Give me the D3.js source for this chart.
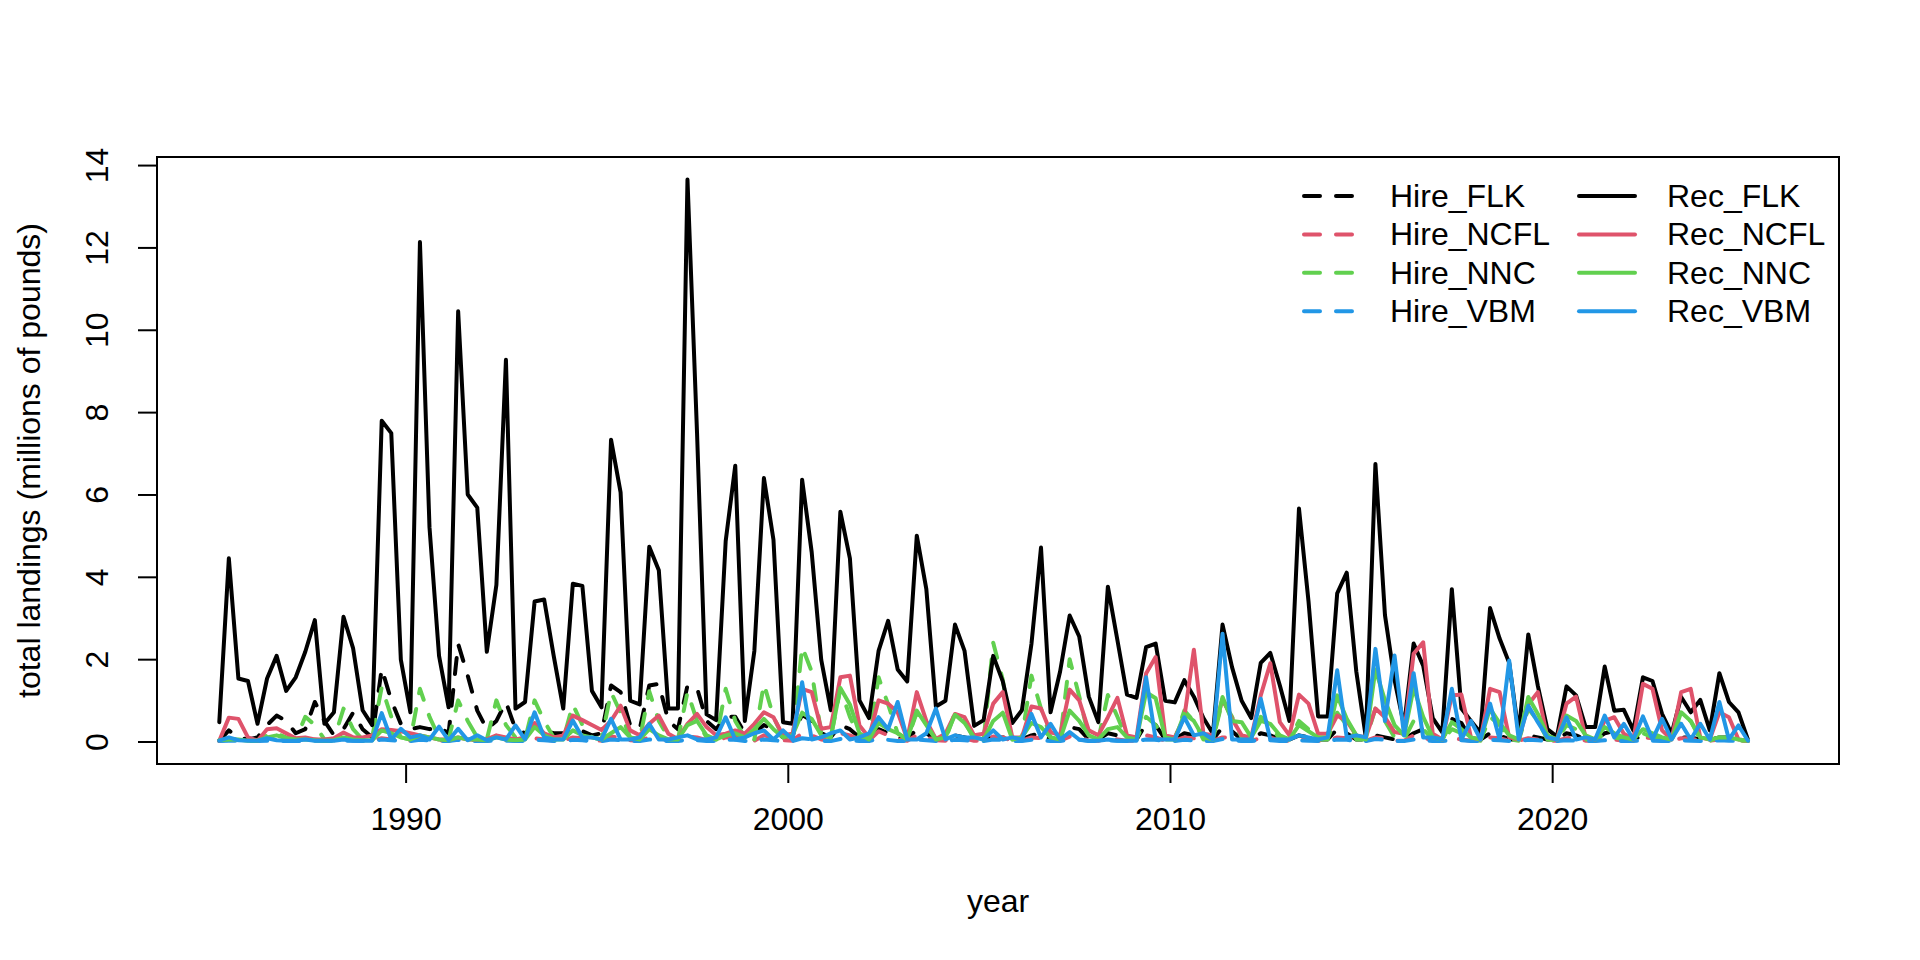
<!DOCTYPE html>
<html>
<head>
<meta charset="utf-8">
<script src="https://cdn.jsdelivr.net/npm/d3@7"></script>
<style>
  body { margin: 0; background: #fff; }
  svg text { font-family: "Liberation Sans", Arial, Helvetica, sans-serif; fill: #000; }
</style>
</head>
<body>
<svg id="chart" width="1920" height="960"></svg>
<script>

// quarterly values, 1985 Q1 .. 2025 Q1 (millions of pounds)
var firstYear = 1985;
var lastYear = 2025;

var hire_flk = [
  0.02,0.27,0.10,0.05,0.10,0.40,0.63,0.50,0.20,0.30,
  0.96,0.50,0.15,0.30,0.70,0.30,0.10,1.77,1.00,0.43,
  0.30,0.35,0.30,0.35,0.20,2.37,1.60,0.75,0.30,0.50,
  0.96,0.30,0.20,0.35,0.30,0.20,0.20,0.30,0.25,0.15,
  0.20,1.36,1.20,0.40,0.30,1.36,1.40,0.50,0.30,1.36,
  1.30,0.50,0.30,0.60,0.60,0.20,0.20,0.40,0.30,0.10,
  0.15,0.65,0.50,0.20,0.10,0.40,0.30,0.10,0.05,0.30,
  0.20,0.10,0.05,0.30,0.20,0.05,0.05,0.15,0.10,0.05,
  0.05,0.10,0.10,0.05,0.05,0.15,0.20,0.05,0.05,0.35,
  0.30,0.05,0.05,0.20,0.15,0.05,0.05,0.43,0.40,0.05,
  0.05,0.20,0.15,0.05,0.05,0.35,0.25,0.05,0.05,0.20,
  0.15,0.05,0.05,0.15,0.10,0.05,0.05,0.30,0.20,0.05,
  0.05,0.15,0.10,0.05,0.05,0.20,0.30,0.05,0.05,0.55,
  0.45,0.05,0.05,0.20,0.15,0.05,0.05,0.15,0.10,0.05,
  0.05,0.20,0.15,0.05,0.05,0.20,0.25,0.05,0.05,0.15,
  0.15,0.05,0.05,0.10,0.10,0.05,0.05,0.10,0.10,0.05,
  0.02
];

var hire_ncfl = [
  0.02,0.05,0.05,0.02,0.02,0.05,0.05,0.02,0.02,0.03,
  0.05,0.02,0.02,0.05,0.03,0.02,0.02,0.08,0.05,0.03,
  0.02,0.10,0.05,0.03,0.02,0.08,0.05,0.03,0.02,0.05,
  0.05,0.02,0.02,0.08,0.05,0.02,0.02,0.10,0.08,0.03,
  0.02,0.12,0.10,0.03,0.02,0.10,0.08,0.03,0.02,0.12,
  0.10,0.03,0.02,0.10,0.12,0.03,0.02,0.15,0.10,0.03,
  0.02,0.20,0.15,0.05,0.02,0.20,0.15,0.05,0.02,0.25,
  0.15,0.05,0.02,0.15,0.10,0.03,0.02,0.10,0.08,0.02,
  0.02,0.12,0.10,0.02,0.02,0.10,0.08,0.02,0.02,0.12,
  0.10,0.02,0.02,0.08,0.05,0.02,0.02,0.15,0.10,0.02,
  0.02,0.10,0.08,0.02,0.02,0.10,0.08,0.02,0.02,0.08,
  0.10,0.02,0.02,0.08,0.05,0.02,0.02,0.10,0.08,0.02,
  0.02,0.10,0.08,0.02,0.02,0.15,0.10,0.02,0.02,0.08,
  0.05,0.02,0.02,0.10,0.08,0.02,0.02,0.08,0.05,0.02,
  0.02,0.08,0.10,0.02,0.02,0.05,0.05,0.02,0.02,0.10,
  0.08,0.02,0.02,0.08,0.08,0.02,0.02,0.05,0.05,0.02,
  0.02
];

var hire_nnc = [
  0.02,0.05,0.05,0.02,0.02,0.15,0.20,0.10,0.05,0.60,
  0.40,0.05,0.05,0.80,0.30,0.05,0.10,1.32,0.60,0.10,
  0.05,1.28,0.60,0.10,0.05,1.00,0.50,0.10,0.05,1.00,
  0.40,0.10,0.05,1.00,0.50,0.10,0.05,0.90,0.40,0.10,
  0.05,1.20,0.70,0.10,0.05,1.22,0.50,0.10,0.05,1.20,
  0.50,0.10,0.05,1.28,0.50,0.10,0.05,1.40,0.60,0.10,
  0.05,2.30,1.70,0.20,0.10,1.28,0.60,0.10,0.05,1.56,
  0.90,0.20,0.05,0.70,0.40,0.05,0.05,0.70,0.50,0.05,
  0.05,2.40,1.50,0.05,0.10,1.60,0.80,0.10,0.05,2.00,
  1.10,0.10,0.05,1.13,0.60,0.05,0.05,0.60,0.40,0.05,
  0.05,0.75,0.50,0.05,0.05,1.00,0.60,0.10,0.05,0.60,
  0.40,0.05,0.05,0.50,0.30,0.05,0.05,0.70,0.40,0.05,
  0.05,0.80,0.50,0.10,0.05,0.50,0.30,0.05,0.02,0.30,
  0.20,0.05,0.02,0.60,0.40,0.05,0.02,0.80,0.50,0.05,
  0.02,0.40,0.30,0.05,0.02,0.20,0.10,0.05,0.02,0.20,
  0.10,0.05,0.02,0.60,0.50,0.05,0.02,0.10,0.05,0.02,
  0.02
];

var hire_vbm = [
  0.01,0.02,0.02,0.01,0.01,0.02,0.02,0.01,0.01,0.02,
  0.02,0.01,0.01,0.02,0.02,0.01,0.01,0.05,0.03,0.01,
  0.01,0.04,0.03,0.01,0.01,0.04,0.02,0.01,0.01,0.03,
  0.02,0.01,0.01,0.04,0.03,0.01,0.01,0.04,0.03,0.01,
  0.01,0.05,0.03,0.01,0.01,0.05,0.03,0.01,0.01,0.05,
  0.03,0.01,0.01,0.05,0.04,0.01,0.01,0.05,0.03,0.01,
  0.01,0.08,0.05,0.01,0.01,0.06,0.04,0.01,0.01,0.06,
  0.04,0.01,0.01,0.05,0.03,0.01,0.01,0.04,0.03,0.01,
  0.01,0.05,0.04,0.01,0.01,0.04,0.03,0.01,0.01,0.05,
  0.04,0.01,0.01,0.03,0.02,0.01,0.01,0.05,0.04,0.01,
  0.01,0.04,0.03,0.01,0.01,0.06,0.04,0.01,0.01,0.04,
  0.03,0.01,0.01,0.03,0.02,0.01,0.01,0.05,0.04,0.01,
  0.01,0.06,0.04,0.01,0.01,0.05,0.03,0.01,0.01,0.04,
  0.03,0.01,0.01,0.04,0.03,0.01,0.01,0.04,0.03,0.01,
  0.01,0.03,0.02,0.01,0.01,0.03,0.02,0.01,0.01,0.03,
  0.02,0.01,0.01,0.03,0.02,0.01,0.01,0.03,0.02,0.01,
  0.01
];

var rec_flk = [
  0.47,4.45,1.53,1.47,0.43,1.53,2.08,1.23,1.56,2.18,
  2.95,0.43,0.71,3.03,2.27,0.76,0.40,7.79,7.49,1.99,
  0.71,12.13,5.20,2.08,0.83,10.45,6.00,5.68,2.18,3.80,
  9.27,0.80,0.96,3.40,3.45,2.08,0.80,3.83,3.78,1.23,
  0.83,7.33,6.05,0.99,0.90,4.73,4.16,0.80,0.80,13.65,
  7.50,0.66,0.52,4.87,6.70,0.50,2.20,6.40,4.90,0.47,
  0.43,6.36,4.60,1.98,0.76,5.58,4.45,1.00,0.57,2.20,
  2.93,1.75,1.46,5.00,3.70,0.85,0.99,2.84,2.20,0.38,
  0.52,2.08,1.46,0.45,0.76,2.37,4.71,0.71,1.70,3.06,
  2.55,1.09,0.47,3.76,2.46,1.14,1.06,2.29,2.38,0.99,
  0.95,1.49,1.09,0.57,0.19,2.84,1.80,0.99,0.57,1.91,
  2.15,1.36,0.50,5.66,3.40,0.61,0.61,3.60,4.10,1.70,
  0.10,6.74,3.07,1.50,0.38,2.38,1.84,0.57,0.22,3.70,
  0.80,0.50,0.21,3.24,2.50,1.91,0.20,2.60,1.35,0.30,
  0.12,1.34,1.12,0.35,0.35,1.82,0.75,0.77,0.27,1.56,
  1.47,0.67,0.19,1.08,0.71,1.01,0.27,1.66,0.96,0.71,
  0.04
];

var rec_ncfl = [
  0.02,0.58,0.55,0.10,0.02,0.30,0.32,0.20,0.08,0.10,
  0.05,0.05,0.08,0.22,0.10,0.10,0.15,0.30,0.28,0.25,
  0.20,0.15,0.10,0.05,0.05,0.10,0.05,0.05,0.05,0.15,
  0.10,0.05,0.10,0.45,0.20,0.10,0.15,0.63,0.52,0.40,
  0.28,0.50,0.87,0.27,0.15,0.43,0.63,0.19,0.06,0.43,
  0.67,0.35,0.15,0.19,0.27,0.19,0.43,0.71,0.59,0.15,
  0.19,1.28,1.20,0.31,0.35,1.56,1.60,0.39,0.10,1.00,
  0.92,0.71,0.06,1.20,0.50,0.06,0.19,0.67,0.59,0.15,
  0.19,0.92,1.20,0.10,0.10,0.85,0.80,0.23,0.15,1.26,
  1.00,0.27,0.15,0.59,1.06,0.15,0.10,1.65,2.05,0.15,
  0.10,0.59,2.23,0.19,0.15,1.04,0.55,0.15,0.10,1.12,
  1.90,0.47,0.15,1.14,0.92,0.19,0.19,0.63,0.50,0.15,
  0.10,0.80,0.59,0.23,0.19,2.13,2.41,0.19,0.05,1.12,
  1.14,0.10,0.05,1.28,1.20,0.10,0.05,0.90,1.20,0.10,
  0.05,0.92,1.09,0.10,0.05,0.50,0.59,0.19,0.05,1.40,
  1.28,0.27,0.05,1.20,1.28,0.10,0.05,0.71,0.59,0.05,
  0.02
];

var rec_nnc = [
  0.03,0.05,0.05,0.02,0.02,0.10,0.15,0.08,0.05,0.05,
  0.03,0.02,0.03,0.10,0.05,0.03,0.03,0.27,0.20,0.10,
  0.05,0.15,0.10,0.05,0.03,0.10,0.05,0.05,0.03,0.10,
  0.05,0.03,0.05,0.35,0.15,0.05,0.05,0.27,0.15,0.10,
  0.05,0.20,0.35,0.10,0.05,0.30,0.15,0.05,0.05,0.40,
  0.50,0.15,0.05,0.15,0.20,0.10,0.30,0.55,0.30,0.10,
  0.15,0.70,0.55,0.15,0.10,1.30,0.90,0.20,0.05,0.45,
  0.30,0.20,0.05,0.75,0.40,0.05,0.10,0.65,0.45,0.10,
  0.05,0.50,0.70,0.05,0.10,0.45,0.35,0.10,0.05,0.75,
  0.50,0.15,0.05,0.30,0.35,0.10,0.05,1.20,1.05,0.10,
  0.05,0.67,0.50,0.10,0.05,1.08,0.50,0.47,0.10,0.50,
  0.43,0.15,0.05,0.40,0.25,0.10,0.10,1.12,0.55,0.15,
  0.05,1.75,1.00,0.40,0.15,1.30,0.60,0.10,0.05,0.47,
  0.30,0.10,0.05,0.80,0.45,0.15,0.05,1.08,0.67,0.15,
  0.05,0.63,0.50,0.15,0.05,0.35,0.20,0.10,0.05,0.30,
  0.20,0.10,0.05,0.71,0.50,0.10,0.05,0.10,0.10,0.05,
  0.02
];

var rec_vbm = [
  0.02,0.10,0.03,0.02,0.02,0.08,0.03,0.02,0.02,0.05,
  0.02,0.02,0.02,0.05,0.02,0.02,0.02,0.69,0.05,0.31,
  0.10,0.15,0.05,0.36,0.03,0.31,0.03,0.15,0.03,0.10,
  0.05,0.39,0.05,0.71,0.10,0.05,0.05,0.51,0.10,0.10,
  0.05,0.55,0.05,0.05,0.10,0.43,0.05,0.05,0.10,0.15,
  0.05,0.05,0.10,0.59,0.05,0.10,0.20,0.27,0.05,0.27,
  0.05,1.44,0.05,0.10,0.20,0.27,0.05,0.10,0.20,0.59,
  0.30,0.96,0.05,0.05,0.20,0.80,0.05,0.15,0.10,0.10,
  0.05,0.27,0.05,0.10,0.05,0.67,0.10,0.43,0.05,0.23,
  0.05,0.02,0.02,0.05,0.02,0.02,0.02,1.56,0.05,0.05,
  0.05,0.59,0.15,0.20,0.05,2.62,0.05,0.05,0.05,1.04,
  0.05,0.05,0.05,0.15,0.10,0.05,0.10,1.73,0.10,0.15,
  0.10,2.25,0.50,2.09,0.15,1.66,0.10,0.10,0.05,1.28,
  0.05,0.50,0.05,0.92,0.05,1.97,0.05,0.87,0.47,0.10,
  0.05,0.59,0.05,0.10,0.05,0.63,0.10,0.43,0.05,0.61,
  0.05,0.55,0.05,0.43,0.05,0.43,0.05,0.96,0.05,0.39,
  0.02
];

var seriesNames = ["Hire_FLK", "Hire_NCFL", "Hire_NNC", "Hire_VBM",
                   "Rec_FLK", "Rec_NCFL", "Rec_NNC", "Rec_VBM"];
var seriesValues = [hire_flk, hire_ncfl, hire_nnc, hire_vbm,
                    rec_flk, rec_ncfl, rec_nnc, rec_vbm];
var seriesColors = ["#000000", "#DF536B", "#61D04F", "#2297E6",
                    "#000000", "#DF536B", "#61D04F", "#2297E6"];
var seriesDashed = [true, true, true, true, false, false, false, false];

var xTicks = [1990, 2000, 2010, 2020];
var yTicks = [0, 2, 4, 6, 8, 10, 12, 14];

// time of each quarter (mid quarter)
var quarterTime = function(i) { return firstYear + 0.125 + i * 0.25; };

var svg = d3.select("#chart");

var box = {left: 157, right: 1839, top: 157, bottom: 764};
var fontSize = 32;

// R style 4% padding on both axes
var xMin = firstYear + 0.125;
var xMax = lastYear + 0.875;
var xPad = (xMax - xMin) * 0.04;

var yMax = d3.max(seriesValues, function(s) { return d3.max(s); });
var yPad = yMax * 0.04;

var x = d3.scaleLinear().domain([xMin - xPad, xMax + xPad]).range([box.left, box.right]);
var y = d3.scaleLinear().domain([-yPad, yMax + yPad]).range([box.bottom, box.top]);

var clip = svg.append("clipPath").attr("id", "plotclip")
  .append("rect")
  .attr("x", box.left).attr("y", box.top)
  .attr("width", box.right - box.left).attr("height", box.bottom - box.top);

var line = d3.line()
  .x(function(d, i) { return x(quarterTime(i)); })
  .y(function(d) { return y(d); });

var plot = svg.append("g").attr("clip-path", "url(#plotclip)");

for ( var k = 0; k < seriesValues.length; k++ ) {

  plot.append("path")
    .datum(seriesValues[k])
    .attr("d", line)
    .attr("fill", "none")
    .attr("stroke", seriesColors[k])
    .attr("stroke-width", 4)
    .attr("stroke-linejoin", "round")
    .attr("stroke-linecap", "round")
    .attr("stroke-dasharray", seriesDashed[k] ? "16,16" : null);

}

// box
svg.append("rect")
  .attr("x", box.left).attr("y", box.top)
  .attr("width", box.right - box.left).attr("height", box.bottom - box.top)
  .attr("fill", "none").attr("stroke", "#000").attr("stroke-width", 2);

// x axis
var xAxis = svg.append("g")
  .attr("transform", "translate(0," + box.bottom + ")")
  .call(d3.axisBottom(x).tickValues(xTicks).tickFormat(d3.format("d")).tickSize(19).tickPadding(20));

xAxis.select(".domain")
  .attr("d", "M" + x(xTicks[0]) + ",0H" + x(xTicks[xTicks.length - 1]))
  .attr("stroke-width", 2);
xAxis.selectAll(".tick line").attr("stroke-width", 2);
xAxis.selectAll(".tick text")
  .attr("font-size", fontSize)
  .attr("font-family", "Liberation Sans, Arial, sans-serif")
  .attr("y", 54)
  .attr("dy", "0.36em");

// y axis
var yAxis = svg.append("g")
  .attr("transform", "translate(" + box.left + ",0)")
  .call(d3.axisLeft(y).tickValues(yTicks).tickFormat(d3.format("d")).tickSize(19));

yAxis.select(".domain")
  .attr("d", "M0," + y(yTicks[0]) + "V" + y(yTicks[yTicks.length - 1]))
  .attr("stroke-width", 2);
yAxis.selectAll(".tick line").attr("stroke-width", 2);
yAxis.selectAll(".tick text")
  .attr("font-size", fontSize)
  .attr("font-family", "Liberation Sans, Arial, sans-serif")
  .attr("x", null).attr("dy", null)
  .attr("text-anchor", "middle")
  .attr("dominant-baseline", "central")
  .attr("transform", "translate(-60,0) rotate(-90)");

// axis titles
svg.append("text")
  .attr("x", (box.left + box.right) / 2)
  .attr("y", 901)
  .attr("text-anchor", "middle")
  .attr("dominant-baseline", "central")
  .attr("font-size", fontSize)
  .text("year");

svg.append("text")
  .attr("transform", "translate(29," + ((box.top + box.bottom) / 2) + ") rotate(-90)")
  .attr("text-anchor", "middle")
  .attr("dominant-baseline", "central")
  .attr("font-size", fontSize)
  .text("total landings (millions of pounds)");

// legend, two columns, no frame
var legendCols = [
  {segX: 1304, textX: 1390},
  {segX: 1579, textX: 1667}
];
var legendTop = 196;
var legendStep = 38.4;

var legend = svg.append("g");

for ( var j = 0; j < seriesNames.length; j++ ) {

  var col = legendCols[Math.floor(j / 4)];
  var ly = legendTop + (j % 4) * legendStep;

  legend.append("line")
    .attr("x1", col.segX).attr("x2", col.segX + 56)
    .attr("y1", ly).attr("y2", ly)
    .attr("stroke", seriesColors[j])
    .attr("stroke-width", 4)
    .attr("stroke-linecap", "round")
    .attr("stroke-dasharray", seriesDashed[j] ? "16,16" : null);

  legend.append("text")
    .attr("x", col.textX)
    .attr("y", ly)
    .attr("dominant-baseline", "central")
    .attr("font-size", fontSize)
    .text(seriesNames[j]);

}

</script>
</body>
</html>
